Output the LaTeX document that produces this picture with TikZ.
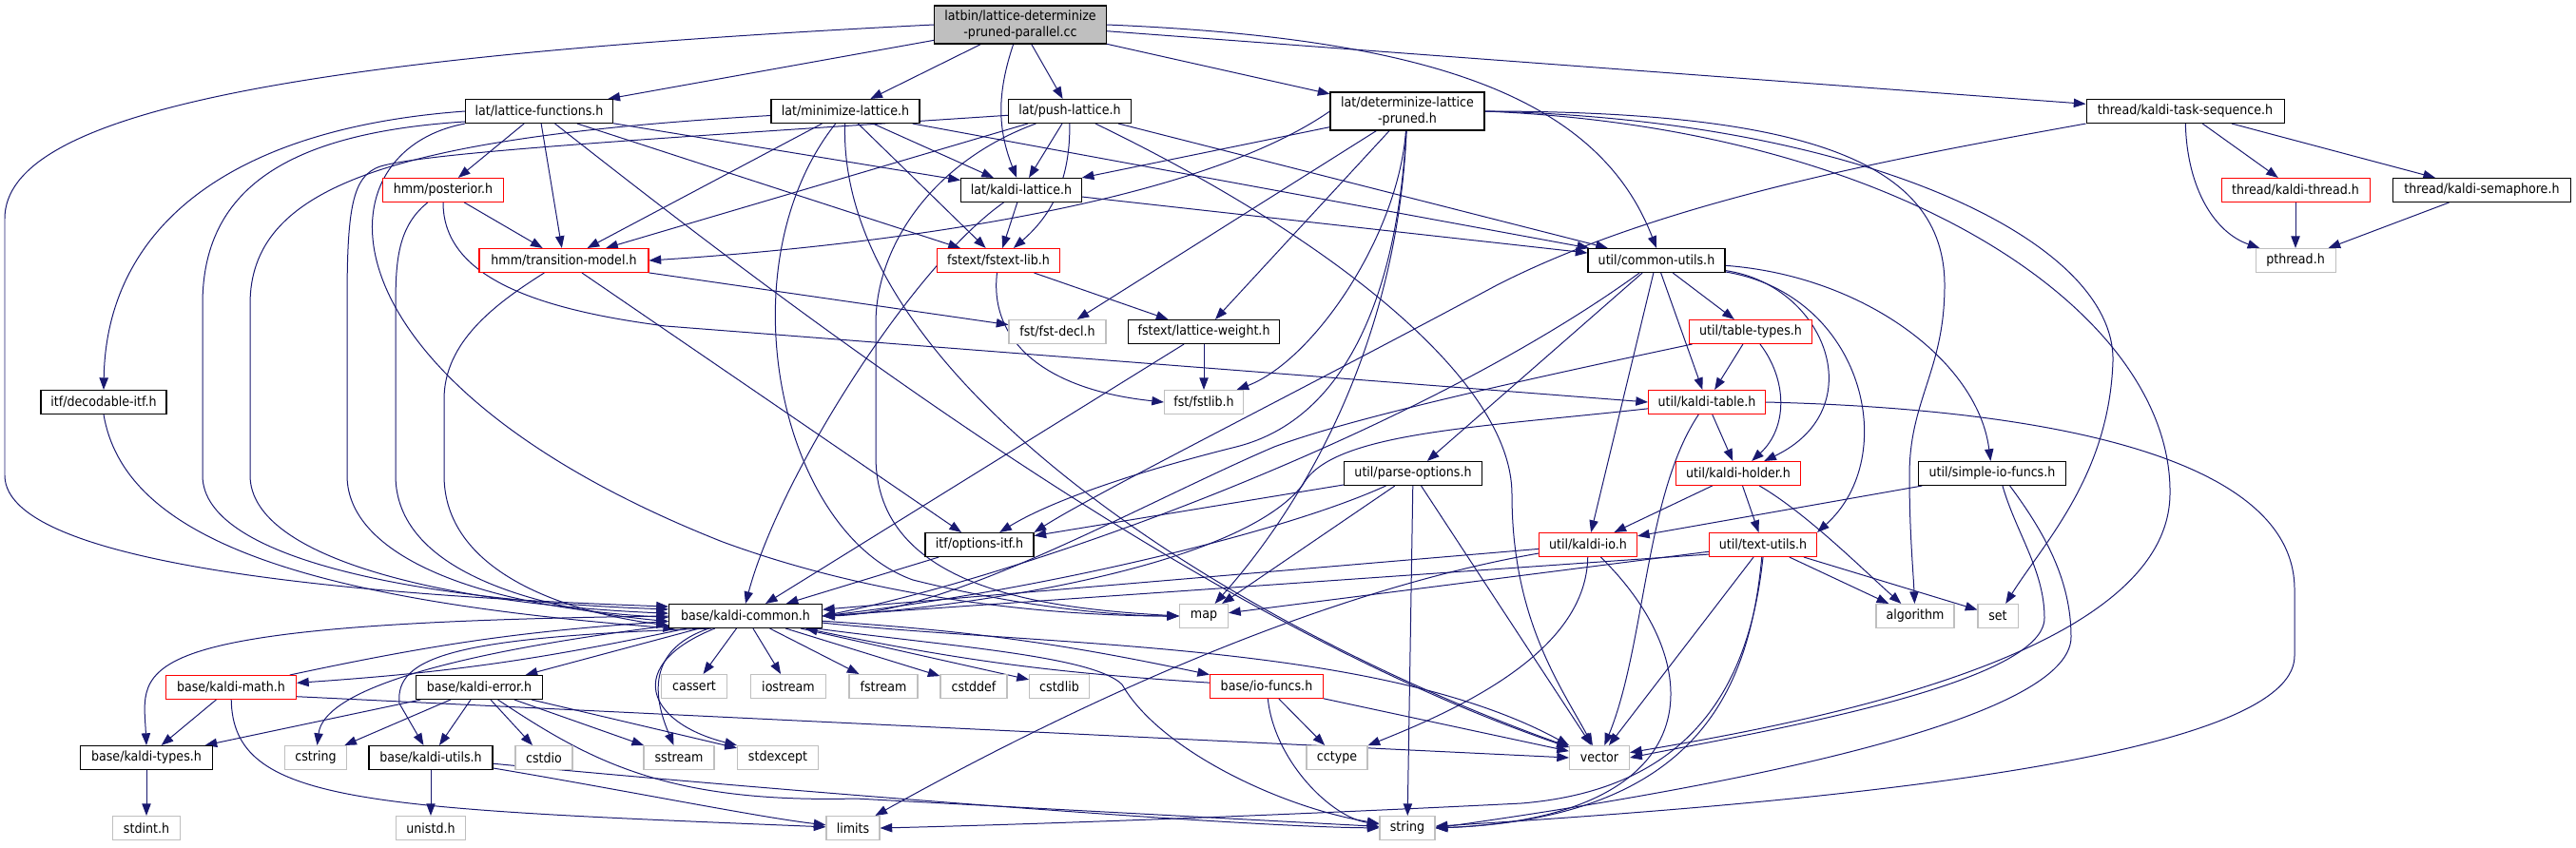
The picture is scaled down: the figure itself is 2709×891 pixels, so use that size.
\documentclass[tikz,border=0pt]{standalone}
\usepackage{fontspec}
\setmainfont{DejaVu Sans Condensed}
\usepackage{xcolor}
\usepackage{tikz}
\usetikzlibrary{arrows.meta, backgrounds}
\definecolor{edgeblue}{HTML}{191970}
\definecolor{sysgray}{HTML}{BFBFBF}
\tikzset{
  file/.style={
    rectangle, draw=black, line width=0.9pt, fill=white, align=center,
    inner sep=2pt, minimum height=7.5mm, font=\fontsize{12}{14}\selectfont
  },
  partfile/.style={file, draw=red},
  sysfile/.style={file, draw=sysgray},
  rootfile/.style={file, fill=sysgray, minimum height=12mm},
  dep/.style={-{Triangle[length=3.8mm,width=2.8mm]}, line width=0.85pt, draw=edgeblue}
}

\begin{document}
\begin{tikzpicture}[x=0.3mm, y=-0.3mm]
\useasboundingbox (0,0) rectangle (2709,891);

% rank 0 and 1
\node[rootfile, minimum width=54.3mm] (cc) at (1073,26)
  {latbin/lattice-determinize\\-pruned-parallel.cc};
\node[file, minimum width=46.5mm] (lf)   at (567,117)  {lat/lattice-functions.h};
\node[file, minimum width=46.8mm] (ml)   at (889,117)  {lat/minimize-lattice.h};
\node[file, minimum width=38.7mm] (pl)   at (1125,117) {lat/push-lattice.h};
\node[file, minimum width=48.6mm, minimum height=12mm] (dlp) at (1480,117)
  {lat/determinize-lattice\\-pruned.h};
\node[file, minimum width=62.4mm] (kts)  at (2298,117) {thread/kaldi-task-sequence.h};

% rank 2 and 3
\node[partfile, minimum width=38.1mm] (post) at (466,200)  {hmm/posterior.h};
\node[file, minimum width=38.1mm]     (kl)   at (1074,200) {lat/kaldi-lattice.h};
\node[partfile, minimum width=46.8mm] (kth)  at (2414,200) {thread/kaldi-thread.h};
\node[file, minimum width=56.1mm]     (ksem) at (2610,200) {thread/kaldi-semaphore.h};
\node[partfile, minimum width=53.4mm] (tm)   at (593,274)  {hmm/transition-model.h};
\node[partfile, minimum width=38.7mm] (fsl)  at (1050,274) {fstext/fstext-lib.h};
\node[file, minimum width=43.2mm]     (cu)   at (1742,274) {util/common-utils.h};
\node[sysfile, minimum width=25.2mm]  (pth)  at (2414,274) {pthread.h};

% rank 4 to 7
\node[sysfile, minimum width=30.6mm]  (fdecl)  at (1112,349) {fst/fst-decl.h};
\node[file, minimum width=47.7mm]     (lw)     at (1266,349) {fstext/lattice-weight.h};
\node[partfile, minimum width=38.7mm] (tt)     at (1841,349) {util/table-types.h};
\node[file, minimum width=39.6mm]     (dec)    at (109,423)  {itf/decodable-itf.h};
\node[sysfile, minimum width=24.9mm]  (fstlib) at (1266,423) {fst/fstlib.h};
\node[partfile, minimum width=36.9mm] (kt)     at (1795,423) {util/kaldi-table.h};
\node[file, minimum width=43.5mm]     (po)     at (1486,498) {util/parse-options.h};
\node[partfile, minimum width=39.3mm] (kh)     at (1828,498) {util/kaldi-holder.h};
\node[file, minimum width=46.5mm]     (sio)    at (2095,498) {util/simple-io-funcs.h};
\node[file, minimum width=34.2mm]     (opt)    at (1030,573) {itf/options-itf.h};
\node[partfile, minimum width=30.9mm] (kio)    at (1670,573) {util/kaldi-io.h};
\node[partfile, minimum width=33.9mm] (tu)     at (1854,573) {util/text-utils.h};

% rank 8
\node[file, minimum width=48.3mm]    (kc)   at (784,648)  {base/kaldi-common.h};
\node[sysfile, minimum width=15.3mm] (map)  at (1266,648) {map};
\node[sysfile, minimum width=24.6mm] (algo) at (2014,648) {algorithm};
\node[sysfile, minimum width=12.6mm] (set)  at (2101,648) {set};

% rank 9
\node[partfile, minimum width=41.1mm] (kmath)    at (243,723)  {base/kaldi-math.h};
\node[file, minimum width=39.9mm]     (kerr)     at (504,723)  {base/kaldi-error.h};
\node[sysfile, minimum width=20.7mm]  (cassert)  at (730,722)  {cassert};
\node[sysfile, minimum width=23.7mm]  (iostream) at (829,722)  {iostream};
\node[sysfile, minimum width=21.6mm]  (fstream)  at (929,722)  {fstream};
\node[sysfile, minimum width=21mm]    (cstddef)  at (1024,722) {cstddef};
\node[sysfile, minimum width=18.9mm]  (cstdlib)  at (1114,722) {cstdlib};
\node[partfile, minimum width=35.7mm] (iof)      at (1332,722) {base/io-funcs.h};

% rank 10 and 11
\node[file, minimum width=41.7mm]    (ktypes)    at (154,797)  {base/kaldi-types.h};
\node[sysfile, minimum width=19.5mm] (cstring)   at (332,797)  {cstring};
\node[file, minimum width=39mm]      (kutil)     at (453,797)  {base/kaldi-utils.h};
\node[sysfile, minimum width=18mm]   (cstdio)    at (572,797)  {cstdio};
\node[sysfile, minimum width=22.2mm] (sstream)   at (714,797)  {sstream};
\node[sysfile, minimum width=25.5mm] (stdexcept) at (818,797)  {stdexcept};
\node[sysfile, minimum width=19.2mm] (cctype)    at (1406,797) {cctype};
\node[sysfile, minimum width=18.9mm] (vector)    at (1682,797) {vector};
\node[sysfile, minimum width=21.3mm] (stdint)    at (154,871)  {stdint.h};
\node[sysfile, minimum width=21.9mm] (unistd)    at (453,871)  {unistd.h};
\node[sysfile, minimum width=16.8mm] (limits)    at (897,871)  {limits};
\node[sysfile, minimum width=17.4mm] (string)    at (1480,871) {string};

\begin{scope}[on background layer]
% the .cc file
\draw[dep] (cc.west) .. controls (300,60) and (5,120) .. (5,230) -- (5,500)
  .. controls (5,600) and (420,628) .. (kc.173);
\foreach \dst in {lf,ml,pl,dlp,kts} \draw[dep] (cc) -- (\dst);
\draw[dep] (cc) to[bend right=20] (kl);
\draw[dep] (cc.east) .. controls (1500,40) and (1680,100) .. (cu.north);

% lat headers
\draw[dep] (lf.west) .. controls (240,135) and (112,240) .. (dec.north);
\draw[dep] (lf.188) .. controls (300,140) and (213,200) .. (213,320) -- (213,500)
  .. controls (213,590) and (450,632) .. (kc.175);
\foreach \dst in {post,tm,kl,fsl} \draw[dep] (lf) -- (\dst);
\draw[dep] (lf.south west) .. controls (330,160) and (330,400) .. (760,570)
  .. controls (950,640) and (1150,648) .. (map.west);
\draw[dep] (lf) .. controls (800,300) and (1250,650) .. (vector);

\draw[dep] (ml) .. controls (400,145) and (263,200) .. (263,320) -- (263,500)
  .. controls (263,590) and (480,636) .. (kc.178);
\foreach \dst in {tm,kl,fsl,cu} \draw[dep] (ml) -- (\dst);
\draw[dep] (ml) .. controls (760,280) and (820,560) .. (960,610)
  .. controls (1080,640) and (1180,648) .. (map.west);
\draw[dep] (ml) .. controls (880,400) and (1300,660) .. (vector);

\draw[dep] (pl) .. controls (700,145) and (450,160) .. (400,175)
  .. controls (370,185) and (365,220) .. (365,320) -- (365,500)
  .. controls (365,590) and (520,640) .. (kc.181);
\foreach \dst in {tm,kl,cu} \draw[dep] (pl) -- (\dst);
\draw[dep] (pl) to[bend left=25] (fsl);
\draw[dep] (pl) .. controls (980,170) and (921,260) .. (921,340) -- (921,480)
  .. controls (921,620) and (1100,640) .. (map.west);
\draw[dep] (pl) .. controls (1400,250) and (1590,400) .. (1590,520)
  .. controls (1590,650) and (1640,720) .. (vector);

\foreach \dst in {kl,fdecl,lw} \draw[dep] (dlp) -- (\dst);
\draw[dep] (dlp.west) .. controls (1250,220) and (900,260) .. (tm.east);
\draw[dep] (dlp) .. controls (1470,250) and (1380,380) .. (fstlib);
\draw[dep] (dlp) .. controls (1470,300) and (1420,440) .. (1300,470)
  .. controls (1180,500) and (1100,530) .. (opt);
\draw[dep] (dlp) .. controls (1470,350) and (1380,520) .. (map);
\draw[dep] (dlp.east) .. controls (1900,117) and (2045,170) .. (2045,300)
  .. controls (2045,390) and (2008,420) .. (2008,500)
  .. controls (2008,560) and (2012,600) .. (algo);
\draw[dep] (dlp.east) .. controls (1950,125) and (2225,250) .. (2222,380)
  .. controls (2218,500) and (2150,570) .. (set);
\draw[dep] (dlp.east) .. controls (2000,135) and (2285,330) .. (2282,520)
  .. controls (2280,690) and (1900,760) .. (vector);

\draw[dep] (kl) -- (fsl);
\draw[dep] (kl) .. controls (960,280) and (820,500) .. (kc.north);
\draw[dep] (kl) -- (cu);

% threads
\draw[dep] (kts.south west) .. controls (2000,165) and (1750,210) .. (1574,300)
  .. controls (1350,420) and (1150,520) .. (opt.north east);
\draw[dep] (kts) .. controls (2300,200) and (2330,245) .. (pth);
\draw[dep] (kts) -- (kth);
\draw[dep] (kts) -- (ksem);
\draw[dep] (kth) -- (pth);
\draw[dep] (ksem) -- (pth);

% hmm, fst, itf
\draw[dep] (post) .. controls (416,240) and (416,280) .. (416,330) -- (416,500)
  .. controls (416,600) and (560,640) .. (kc.184);
\draw[dep] (post) -- (tm);
\draw[dep] (post.south) .. controls (466,290) and (560,325) .. (700,343) -- (kt.west);
\draw[dep] (tm) .. controls (520,320) and (467,360) .. (467,420) -- (467,500)
  .. controls (467,600) and (590,643) .. (kc.187);
\draw[dep] (tm) -- (fdecl);
\draw[dep] (tm) -- (opt);
\draw[dep] (fsl) -- (lw);
\draw[dep] (fsl) .. controls (1040,360) and (1100,410) .. (fstlib.west);
\draw[dep] (lw) -- (fstlib);
\draw[dep] (lw) -- (kc);
\draw[dep] (dec.south) .. controls (130,560) and (300,630) .. (kc.190);
\draw[dep] (opt) -- (kc);

% util headers
\foreach \dst in {po,kio,kt,tt} \draw[dep] (cu) -- (\dst);
\draw[dep] (cu) .. controls (1500,450) and (1100,600) .. (kc.east);
\draw[dep] (cu) .. controls (1960,290) and (2080,380) .. (sio);
\draw[dep] (cu) .. controls (1920,300) and (1970,430) .. (kh);
\draw[dep] (cu) .. controls (1960,310) and (2000,480) .. (tu.north east);
\draw[dep] (tt) .. controls (1600,400) and (1420,440) .. (1340,470)
  .. controls (1200,530) and (1000,645) .. (kc.east);
\draw[dep] (tt) -- (kt);
\draw[dep] (tt) .. controls (1880,400) and (1880,450) .. (kh);
\draw[dep] (kt) .. controls (1550,450) and (1400,455) .. (1370,510)
  .. controls (1300,600) and (1000,640) .. (kc.east);
\draw[dep] (kt) -- (kh);
\draw[dep] (kt) .. controls (1730,520) and (1730,680) .. (vector);
\draw[dep] (kt.east) .. controls (2150,430) and (2413,480) .. (2413,620) -- (2413,690)
  .. controls (2413,800) and (1900,845) .. (string);
\draw[dep] (kh) -- (kio);
\draw[dep] (kh) -- (tu);
\draw[dep] (kh) .. controls (1900,540) and (1960,600) .. (algo);
\foreach \dst in {opt,map,vector,string} \draw[dep] (po) -- (\dst);
\draw[dep] (po) .. controls (1350,560) and (1100,620) .. (kc.east);
\draw[dep] (sio) -- (kio);
\draw[dep] (sio.-50) .. controls (2120,560) and (2150,600) .. (2150,650)
  .. controls (2150,720) and (1850,770) .. (vector.east);
\draw[dep] (sio.-35) .. controls (2150,560) and (2178,610) .. (2178,670)
  .. controls (2178,760) and (1800,830) .. (string.east);
\draw[dep] (kio) -- (kc);
\draw[dep] (kio) .. controls (1400,620) and (1150,730) .. (limits);
\draw[dep] (kio) .. controls (1668,680) and (1550,740) .. (cctype);
\draw[dep] (kio) .. controls (1800,700) and (1800,860) .. (string.east);
\foreach \dst in {map,algo,set,vector} \draw[dep] (tu) -- (\dst);
\draw[dep] (tu.190) -- (kc.east);
\draw[dep] (tu) .. controls (1840,720) and (1790,860) .. (string.east);
\draw[dep] (tu.south) .. controls (1840,720) and (1780,830) .. (1600,845)
  .. controls (1300,860) and (1050,868) .. (limits.east);

% base headers
\foreach \dst in {cassert,iostream,fstream,cstddef,cstdlib,kerr} \draw[dep] (kc) -- (\dst);
\draw[dep] (kc) to[bend left=4] (iof);
\draw[dep] (iof) to[bend left=4] (kc);
\draw[dep] (kc) to[bend left=4] (kmath);
\draw[dep] (kmath) to[bend left=4] (kc);
\draw[dep] (kc) .. controls (450,690) and (340,730) .. (cstring);
\draw[dep] (kc.200) .. controls (480,670) and (415,690) .. (420,740) -- (kutil);
\draw[dep] (kc.west) .. controls (120,655) and (150,700) .. (ktypes.north);
\draw[dep] (kc) .. controls (675,685) and (690,740) .. (sstream);
\draw[dep] (kc) .. controls (655,700) and (680,760) .. (stdexcept.north west);
\draw[dep] (kc.-5) .. controls (1100,680) and (1450,675) .. (vector.north west);
\draw[dep] (kc.-10) .. controls (1000,680) and (1150,690) .. (1180,720)
  .. controls (1220,790) and (1350,850) .. (string);
\draw[dep] (kmath) -- (ktypes);
\draw[dep] (kmath) .. controls (245,845) and (380,850) .. (limits);
\draw[dep] (kmath.-8) -- (vector.west);
\foreach \dst in {ktypes,cstring,kutil,cstdio,sstream,stdexcept} \draw[dep] (kerr) -- (\dst);
\draw[dep] (kerr) .. controls (620,800) and (700,845) .. (900,840) -- (string);
\draw[dep] (kutil) -- (unistd);
\draw[dep] (kutil) .. controls (650,830) and (800,860) .. (limits);
\draw[dep] (kutil) .. controls (800,830) and (1300,870) .. (string);
\draw[dep] (ktypes) -- (stdint);
\draw[dep] (iof) -- (cctype);
\draw[dep] (iof) .. controls (1340,800) and (1400,860) .. (string);
\draw[dep] (iof) -- (vector);
\end{scope}

\end{tikzpicture}
\end{document}
